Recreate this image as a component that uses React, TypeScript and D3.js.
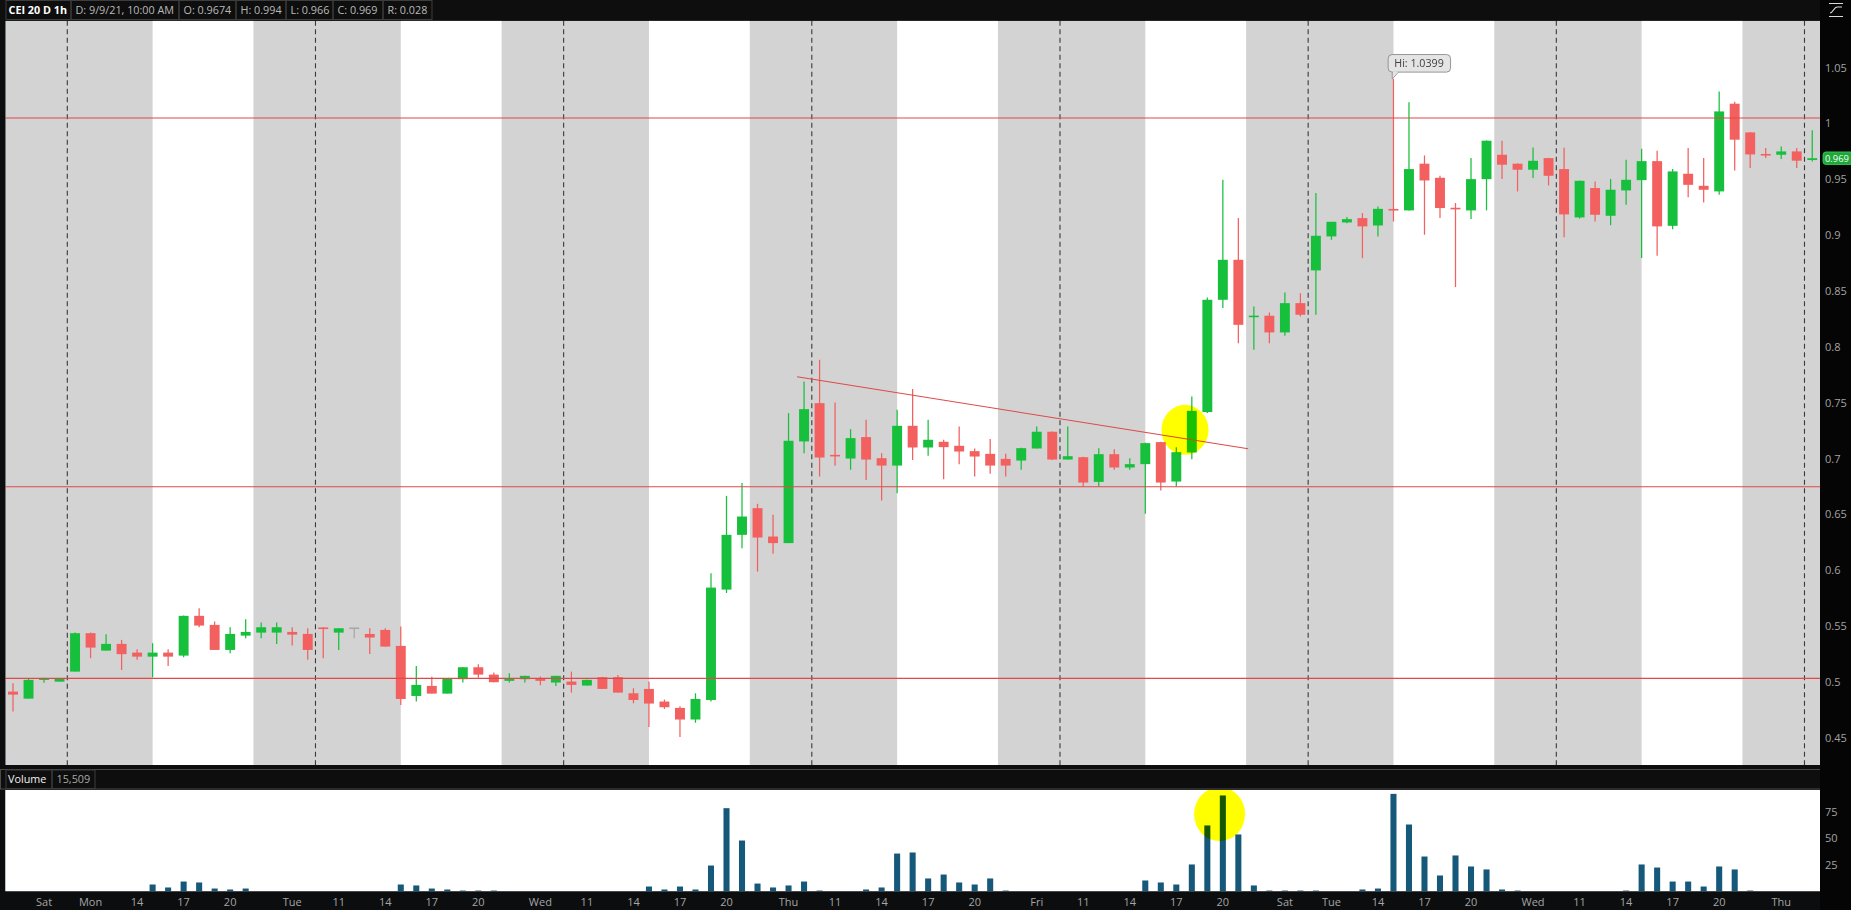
import React from 'react';
import * as d3 from 'd3';

// ---------------- data (one entry per 1h slot, 117 slots) ----------------
const slotOpen = [
  0.4916, 0.4853, 0.5025, 0.5005,
  0.5095, 0.5439, 0.5283, 0.5343, 0.5265, 0.5229, 0.5265, 0.5238, 0.5594, 0.5513, 0.5289, 0.5417, 0.5444, 0.5444, 0.5450, 0.5432,
  0.5489, 0.5444, 0.5483, 0.5432, 0.5468, 0.5325, 0.4877, 0.4967, 0.4898, 0.5027, 0.5134, 0.5068, 0.5012, 0.5027, 0.5030, 0.4997,
  0.5006, 0.4970, 0.5045, 0.5045, 0.4901, 0.4940, 0.4827, 0.4770, 0.4666, 0.4841, 0.5829, 0.6319, 0.6558, 0.6304, 0.6245, 0.7155,
  0.7498, 0.7034, 0.7002, 0.7194, 0.7005, 0.6939, 0.7295, 0.7101, 0.7152, 0.7116, 0.7068, 0.7044, 0.6999, 0.6984, 0.7092, 0.7242,
  0.6993, 0.7014, 0.6793, 0.7041, 0.6922, 0.6952, 0.7149, 0.6796, 0.7056, 0.7418, 0.8423, 0.8781, 0.8268, 0.8280, 0.8131, 0.8393,
  0.8686, 0.8990, 0.9115, 0.9154, 0.9088, 0.9235, 0.9223, 0.9641, 0.9515, 0.9244, 0.9223, 0.9503, 0.9721, 0.9641, 0.9587, 0.9691,
  0.9593, 0.9160, 0.9423, 0.9175, 0.9402, 0.9494, 0.9664, 0.9085, 0.9551, 0.9443, 0.9393, 1.0178, 0.9921, 0.9724, 0.9721, 0.9751,
  0.9674,
];
const slotHigh = [
  0.4991, 0.5036, 0.5040, 0.5036,
  0.5445, 0.5445, 0.5430, 0.5379, 0.5295, 0.5349, 0.5295, 0.5597, 0.5663, 0.5543, 0.5492, 0.5564, 0.5534, 0.5534, 0.5492, 0.5483,
  0.5492, 0.5483, 0.5483, 0.5483, 0.5483, 0.5498, 0.5146, 0.5050, 0.5036, 0.5137, 0.5161, 0.5086, 0.5080, 0.5057, 0.5050, 0.5057,
  0.5095, 0.5021, 0.5048, 0.5065, 0.4946, 0.5006, 0.4845, 0.4785, 0.4901, 0.5976, 0.6668, 0.6782, 0.6597, 0.6498, 0.7409, 0.7692,
  0.7886, 0.7504, 0.7265, 0.7349, 0.7050, 0.7438, 0.7624, 0.7349, 0.7170, 0.7289, 0.7092, 0.7176, 0.7044, 0.7098, 0.7289, 0.7245,
  0.7289, 0.7017, 0.7095, 0.7086, 0.7005, 0.7143, 0.7152, 0.7104, 0.7557, 0.8444, 0.9498, 0.9155, 0.8363, 0.8310, 0.8488, 0.8482,
  0.9378, 0.9121, 0.9163, 0.9199, 0.9258, 1.0399, 1.0190, 0.9715, 0.9533, 0.9289, 0.9691, 0.9850, 0.9847, 0.9644, 0.9787, 0.9694,
  0.9784, 0.9490, 0.9482, 0.9505, 0.9676, 0.9774, 0.9757, 0.9593, 0.9781, 0.9692, 1.0288, 1.0196, 0.9924, 0.9781, 0.9796, 0.9781,
  0.9940,
];
const slotLow = [
  0.4737, 0.4853, 0.4995, 0.5005,
  0.5095, 0.5215, 0.5283, 0.5110, 0.5200, 0.5044, 0.5146, 0.5223, 0.5492, 0.5289, 0.5259, 0.5394, 0.5394, 0.5343, 0.5328, 0.5200,
  0.5215, 0.5289, 0.5394, 0.5253, 0.5319, 0.4797, 0.4827, 0.4898, 0.4898, 0.4997, 0.5039, 0.5000, 0.4997, 0.4997, 0.4973, 0.4967,
  0.4907, 0.4970, 0.4940, 0.4907, 0.4812, 0.4600, 0.4761, 0.4510, 0.4637, 0.4827, 0.5799, 0.6200, 0.5990, 0.6149, 0.6245, 0.7050,
  0.6841, 0.6937, 0.6901, 0.6811, 0.6626, 0.6692, 0.6990, 0.7026, 0.6817, 0.6952, 0.6841, 0.6865, 0.6841, 0.6901, 0.7092, 0.6990,
  0.6993, 0.6751, 0.6751, 0.6901, 0.6901, 0.6507, 0.6716, 0.6751, 0.6996, 0.7410, 0.8349, 0.8035, 0.7976, 0.8035, 0.8101, 0.8274,
  0.8289, 0.8960, 0.9109, 0.8796, 0.8990, 0.9124, 0.9223, 0.9005, 0.9154, 0.8537, 0.9145, 0.9223, 0.9503, 0.9393, 0.9512, 0.9446,
  0.8983, 0.9150, 0.9124, 0.9091, 0.9273, 0.8797, 0.8818, 0.9055, 0.9341, 0.9293, 0.9363, 0.9581, 0.9602, 0.9692, 0.9683, 0.9602,
  0.9660,
];
const slotClose = [
  0.4889, 0.5021, 0.5030, 0.5034,
  0.5439, 0.5310, 0.5343, 0.5251, 0.5229, 0.5265, 0.5229, 0.5594, 0.5507, 0.5289, 0.5432, 0.5450, 0.5492, 0.5492, 0.5426, 0.5289,
  0.5477, 0.5483, 0.5483, 0.5400, 0.5319, 0.4850, 0.4976, 0.4898, 0.5030, 0.5134, 0.5068, 0.5000, 0.5033, 0.5057, 0.5012, 0.5057,
  0.4976, 0.5021, 0.4940, 0.4907, 0.4841, 0.4809, 0.4776, 0.4666, 0.4850, 0.5847, 0.6319, 0.6483, 0.6295, 0.6245, 0.7161, 0.7444,
  0.7011, 0.7022, 0.7185, 0.6993, 0.6939, 0.7295, 0.7101, 0.7170, 0.7104, 0.7065, 0.7020, 0.6939, 0.6939, 0.7095, 0.7242, 0.6993,
  0.7023, 0.6787, 0.7041, 0.6922, 0.6952, 0.7140, 0.6787, 0.7059, 0.7429, 0.8423, 0.8781, 0.8199, 0.8280, 0.8131, 0.8393, 0.8289,
  0.8996, 0.9121, 0.9145, 0.9080, 0.9237, 0.9223, 0.9593, 0.9491, 0.9244, 0.9235, 0.9503, 0.9847, 0.9632, 0.9587, 0.9667, 0.9533,
  0.9187, 0.9488, 0.9184, 0.9408, 0.9497, 0.9664, 0.9080, 0.9572, 0.9452, 0.9408, 1.0109, 0.9856, 0.9724, 0.9718, 0.9751, 0.9668,
  0.9690,
];
const slotVolume = [
  0, 0, 0, 0,
  0, 0, 0, 0, 0, 6.6, 3.8, 9.4, 8.5, 2.8, 1.9, 2.8, 0, 0, 0, 0,
  0, 0, 0, 0, 0, 6.6, 5.7, 2.8, 1.9, 0.9, 0.9, 0.9, 0, 0, 0, 0,
  0, 0, 0, 0, 0, 4.7, 1.9, 4.7, 1.9, 24.5, 78.6, 48.1, 7.5, 3.8, 5.7, 9.4,
  0.9, 0, 0, 1.9, 3.8, 35.8, 36.8, 12.3, 16, 8.5, 6.6, 12.3, 0.9, 0, 0, 0,
  0, 0, 0, 0, 0, 10.4, 8.5, 6.6, 25.5, 62.3, 90.6, 53.8, 5.7, 0.9, 0.9, 0.9,
  0.9, 0, 0, 1.9, 2.8, 92.1, 63.2, 33, 15.1, 34, 23.6, 20.8, 1.9, 0.9, 0, 0,
  0, 0, 0, 0, 0.9, 25.5, 22.6, 9.4, 9.4, 4.7, 23.6, 20.8, 0.9, 0, 0, 0,
  0,
];

// session starts (4:00 ET) as slot indices; regular session 9:30 - 16:00
const dayStartSlots = [4, 20, 36, 52, 68, 84, 100, 116];
const regularOpenOffset = 5.5;
const regularCloseOffset = 12;

const timeLabelSlots = [2, 5, 8, 11, 14, 18, 21, 24, 27, 30, 34, 37, 40, 43, 46, 50, 53, 56, 59, 62, 66, 69, 72, 75, 78, 82, 85, 88, 91, 94, 98, 101, 104, 107, 110, 114];
const timeLabelTexts = ['Sat', 'Mon', '14', '17', '20', 'Tue', '11', '14', '17', '20', 'Wed', '11', '14', '17', '20', 'Thu', '11', '14', '17', '20', 'Fri', '11', '14', '17', '20', 'Sat', 'Tue', '14', '17', '20', 'Wed', '11', '14', '17', '20', 'Thu'];

const priceTicks = [0.45, 0.5, 0.55, 0.6, 0.65, 0.7, 0.75, 0.8, 0.85, 0.9, 0.95, 1, 1.05];
const volumeTicks = [25, 50, 75];

const levelPrices = [1.005, 0.675, 0.5034];
const trendSlots = [51.05, 80.13];
const trendPrices = [0.7734, 0.7089];

const headerTexts = ['CEI 20 D 1h', 'D: 9/9/21, 10:00 AM', 'O: 0.9674', 'H: 0.994', 'L: 0.966', 'C: 0.969', 'R: 0.028'];
const volumeHeaderTexts = ['Volume', '15,509'];
const highSlot = 89;
const highText = 'Hi: 1.0399';
const lastPriceText = '0.969';

const priceMarkSlot = 76.06;
const priceMarkValue = 0.7259;
const volumeMarkSlot = 78.29;
const volumeMarkValue = 73;

// ---------------- layout ----------------
const W = 1851;
const H = 910;
const PLOT_L = 5.26;
const PLOT_R = 1820;
const PRICE_TOP = 20.7;
const PRICE_BOTTOM = 765;
const VOL_TOP = 790;
const VOL_BOTTOM = 891.5;
const FONT = "'Open Sans', 'Noto Sans', sans-serif";

const GREEN = '#17c03c';
const RED = '#f2605f';
const LINE_RED = '#de4a4a';

export default function App() {
  const n = slotOpen.length;
  const x = d3.scaleLinear().domain([0, 117]).range([PLOT_L, PLOT_R]);
  const slotW = x(1) - x(0);
  const y = d3.scaleLinear().domain([0.4259, 1.0921]).range([PRICE_BOTTOM, PRICE_TOP]);
  const yv = d3.scaleLinear().domain([0, 95.75]).range([VOL_BOTTOM, VOL_TOP]);
  const fmt = (p: number) => String(+p.toFixed(2));
  const bodyW = slotW * 0.64;
  const volW = slotW * 0.39;

  const trendPath = d3.line<number>()
    .x((_, i) => x(trendSlots[i]))
    .y((p) => y(p))(trendPrices) || '';

  const headerEdges = [6, 71, 179, 236, 286, 333, 383, 432];
  const volEdges = [6, 52, 95];

  const hx = x(highSlot + 0.5);
  const hy = y(slotHigh[highSlot]);
  const lastY = y(slotClose[n - 1]);

  return (
    <svg
      width={W}
      height={H}
      viewBox={`0 0 ${W} ${H}`}
      style={{ position: 'fixed', left: 0, top: 0, display: 'block' }}
      fontFamily={FONT}
    >
      <defs>
        <clipPath id="priceClip">
          <rect x={PLOT_L} y={PRICE_TOP} width={PLOT_R - PLOT_L} height={PRICE_BOTTOM - PRICE_TOP} />
        </clipPath>
        <clipPath id="volClip">
          <rect x={PLOT_L} y={VOL_TOP} width={PLOT_R - PLOT_L} height={VOL_BOTTOM - VOL_TOP} />
        </clipPath>
      </defs>
      <rect x={0} y={0} width={W} height={H} fill="#0c0d0f" />

      {/* header */}
      <rect x={0} y={0} width={PLOT_R + 2} height={20} fill="#0e0e0e" />
      {headerTexts.map((t, i) => (
        <g key={'h' + i}>
          <rect x={headerEdges[i]} y={0.5} width={headerEdges[i + 1] - headerEdges[i]} height={19} fill="none" stroke="#3d3d3d" strokeWidth={1} />
          <text
            x={headerEdges[i] + (i === 0 ? 2.5 : 4.5)}
            y={14.3}
            fontSize={10.8}
            fontWeight={i === 0 ? 700 : 400}
            fill={i === 0 ? '#ffffff' : '#b9b9b9'}
          >
            {t}
          </text>
        </g>
      ))}

      {/* price panel */}
      <g clipPath="url(#priceClip)">
        <rect x={PLOT_L} y={PRICE_TOP} width={PLOT_R - PLOT_L} height={PRICE_BOTTOM - PRICE_TOP} fill="#d3d3d3" />
        {dayStartSlots.map((d) => (
          <rect
            key={'w' + d}
            x={x(d + regularOpenOffset)}
            y={PRICE_TOP}
            width={x(d + regularCloseOffset) - x(d + regularOpenOffset)}
            height={PRICE_BOTTOM - PRICE_TOP}
            fill="#ffffff"
          />
        ))}
        {dayStartSlots.map((d) => (
          <line key={'d' + d} x1={x(d)} x2={x(d)} y1={PRICE_TOP} y2={PRICE_BOTTOM} stroke="#3a3a3a" strokeWidth={1.1} strokeDasharray="5 3.5" />
        ))}
        {d3.range(n).map((i) => {
          const o = slotOpen[i], c = slotClose[i], h = slotHigh[i], l = slotLow[i];
          const col = c > o ? GREEN : c < o ? RED : '#a8a8a8';
          const cx = x(i + 0.5);
          const top = y(Math.max(o, c));
          const bot = y(Math.min(o, c));
          const bh = Math.max(bot - top, 1.6);
          return (
            <g key={'c' + i}>
              <line x1={cx} x2={cx} y1={y(h)} y2={y(l)} stroke={col} strokeWidth={1.25} />
              <rect x={cx - bodyW / 2} y={top - (bh - (bot - top)) / 2} width={bodyW} height={bh} fill={col} />
            </g>
          );
        })}
        {levelPrices.map((p) => (
          <line key={'l' + p} x1={PLOT_L} x2={PLOT_R} y1={y(p)} y2={y(p)} stroke={LINE_RED} strokeWidth={1.1} />
        ))}
        <path d={trendPath} stroke={LINE_RED} strokeWidth={1.1} fill="none" />
        <ellipse
          cx={x(priceMarkSlot)}
          cy={y(priceMarkValue)}
          rx={23.5}
          ry={25}
          fill="#ffff00"
          style={{ mixBlendMode: 'multiply' }}
        />
        {/* high marker */}
        <path d={`M${hx - 1.2},${hy - 7} L${hx - 1.2},${hy} L${hx + 5},${hy - 7} Z`} fill="#e4e4e4" stroke="#8c8c8c" strokeWidth={0.8} />
        <rect x={hx - 5.3} y={hy - 24.5} width={62.4} height={17.6} rx={4} fill="#e4e4e4" stroke="#8c8c8c" strokeWidth={0.9} />
        <rect x={hx - 0.6} y={hy - 7.6} width={5} height={1.6} fill="#e4e4e4" />
        <text x={hx + 0.8} y={hy - 11.6} fontSize={10.7} fill="#404040">{highText}</text>
      </g>

      {/* volume header */}
      <rect x={0.5} y={769.5} width={PLOT_R + 1} height={19.5} fill="#0e0e0e" stroke="#4a4a4a" strokeWidth={1} />
      {volumeHeaderTexts.map((t, i) => (
        <g key={'v' + i}>
          <rect x={volEdges[i]} y={770} width={volEdges[i + 1] - volEdges[i]} height={18.5} fill="none" stroke="#3d3d3d" strokeWidth={1} />
          <text x={volEdges[i] + (i === 0 ? 2 : 4.5)} y={783.3} fontSize={10.8} fill={i === 0 ? '#f2f2f2' : '#a9a9a9'}>{t}</text>
        </g>
      ))}

      {/* volume panel */}
      <rect x={PLOT_L} y={VOL_TOP} width={PLOT_R - PLOT_L} height={VOL_BOTTOM - VOL_TOP} fill="#ffffff" />
      <g clipPath="url(#volClip)">
        {d3.range(n).filter((i) => slotVolume[i] > 0).map((i) => (
          <rect
            key={'vb' + i}
            x={x(i + 0.5) - volW / 2}
            y={yv(slotVolume[i])}
            width={volW}
            height={VOL_BOTTOM - yv(slotVolume[i])}
            fill="#15587a"
          />
        ))}
        <ellipse
          cx={x(volumeMarkSlot)}
          cy={yv(volumeMarkValue)}
          rx={25.5}
          ry={27}
          fill="#ffff00"
          style={{ mixBlendMode: 'multiply' }}
        />
      </g>

      {/* right axis */}
      <rect x={PLOT_R} y={0} width={W - PLOT_R} height={H} fill="#050505" />
      {priceTicks.map((p) => (
        <text key={'pt' + p} x={1825} y={y(p)} dy="0.35em" fontSize={11} fill="#a3a3a3">{fmt(p)}</text>
      ))}
      {volumeTicks.map((v) => (
        <text key={'vt' + v} x={1825} y={yv(v)} dy="0.35em" fontSize={11} fill="#a3a3a3">{v}</text>
      ))}
      <rect x={1823} y={lastY - 6.3} width={32} height={12.6} rx={3} fill="#1fa83a" stroke="#3fd060" strokeWidth={0.8} />
      <text x={1825} y={lastY} dy="0.36em" fontSize={9.4} fill="#f0fff0">{lastPriceText}</text>
      {/* corner icon */}
      <path d="M1829,3.5 H1843 M1830,13 C1833,13 1834,7 1837,7 L1842,7 M1829,16.5 H1843" stroke="#dcdcdc" strokeWidth={1.2} fill="none" />

      {/* x axis */}
      <rect x={0} y={VOL_BOTTOM} width={PLOT_R} height={H - VOL_BOTTOM} fill="#0c0d0f" />
      {timeLabelSlots.map((s, i) => (
        <text key={'tl' + i} x={x(s + 0.5)} y={905.5} fontSize={11} textAnchor="middle" fill="#a5a5a5">{timeLabelTexts[i]}</text>
      ))}
    </svg>
  );
}
